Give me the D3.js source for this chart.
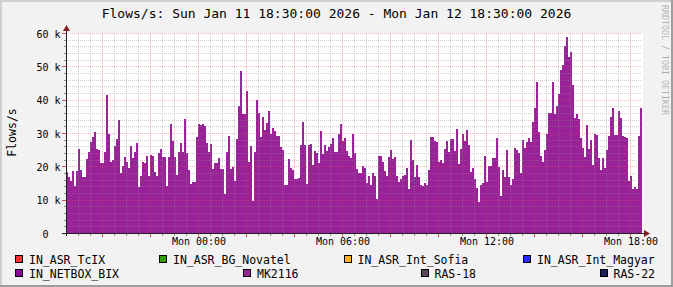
<!DOCTYPE html>
<html><head><meta charset="utf-8">
<script src="https://cdn.jsdelivr.net/npm/d3@7"></script>
<style>html,body{margin:0;padding:0;background:#F2F2F2;} svg{display:block;}</style>
</head><body><svg id="c" width="673" height="287"></svg>
<script>
// ---------- data ----------
const titleText = "Flows/s: Sun Jan 11 18:30:00 2026 - Mon Jan 12 18:30:00 2026";
const yAxisLabel = "Flows/s";
const watermarkText = "RRDTOOL / TOBI OETIKER";
const startTime = new Date(2026, 0, 11, 18, 30);
const endTime = new Date(2026, 0, 12, 18, 30);
const stepMinutes = 5;

// MK2116 flows per 5-minute step (288 values)
const flows = [
 18400,16900,15700,18700,14100,18700,25200,18900,16900,16900,
 22200,24200,27200,28900,30200,25200,24900,21100,21100,24200,
 41400,29700,21400,21900,26200,28200,33800,18100,20200,22900,
 21300,19600,26100,22600,24200,26900,13900,17100,21400,21100,
 23200,17200,23400,23100,18400,17200,23900,25200,22700,22900,
 14100,22700,32600,27600,22700,17400,24400,26900,24400,34200,
 23900,18900,14700,15200,15400,28700,32700,32400,32700,32200,
 27100,24400,26700,19200,21100,21100,22400,19200,19200,11700,
 24200,29200,19200,19700,15700,28100,38100,48600,35600,35600,
 42700,21400,
 26100,9700,24400,39900,36100,28900,34700,30900,33100,36600,
 29700,31500,30600,29100,29100,25900,24900,14400,14400,22100,
 19600,18900,16200,16200,16400,26400,33300,26400,14700,26400,
 26700,20400,24600,23900,21100,30600,23700,26400,24600,25900,
 26700,28400,24400,24400,29700,32700,27600,28400,24600,23100,
 22400,29700,23900,19200,18100,18100,20200,19400,15100,17100,
 14400,18100,17100,10200,23100,23100,21200,18700,17100,22700,
 24800,22200,22900,17100,15200,16100,17200,17400,19400,13200,
 27900,21900,16700,20400,16900,14400,14200,14900,14400,18900,
 28700,28700,27600,27200,21400,
 21900,21100,25100,27600,24400,28200,28200,24600,31100,20700,
 25200,29700,27700,30900,26400,18400,19600,16100,13600,9400,
 14400,15100,23100,15400,20000,20100,22600,22600,28600,19700,
 11100,18900,16900,24900,16900,14400,16100,25600,24900,24100,
 18100,27900,25400,27200,28600,27400,33400,37600,45200,30400,
 23100,21400,24900,29600,36100,35900,45200,35600,38100,41600,
 48900,50400,56100,58700,52900,54400,44400,34400,35600,34100,
 28400,25400,22900,32400,25200,27900,20400,29700,29400,22400,
 18900,22600,19400,24900,29100,34900,37600,29400,29400,36600,
 34400,29100,28900,28600,15700,17100,13100,13700,13100,29100,
 37600
];

const yTickValues = [0, 10000, 20000, 30000, 40000, 50000, 60000];
const yTickLabels = ["0", "10 k", "20 k", "30 k", "40 k", "50 k", "60 k"];
const xLabelTimes = [new Date(2026,0,12,0,0), new Date(2026,0,12,6,0), new Date(2026,0,12,12,0), new Date(2026,0,12,18,0)];

const legendNames = ["IN_ASR_TcIX","IN_ASR_BG_Novatel","IN_ASR_Int_Sofia","IN_ASR_Int_Magyar",
                     "IN_NETBOX_BIX","MK2116","RAS-18","RAS-22"];
const legendColors = ["#FF3333","#349A10","#FFB020","#2828FF",
                      "#880A98","#9A2298","#5A485A","#1E1E5C"];
const barColor = legendColors[5];

// ---------- layout ----------
const W = 673, H = 287;
const plot = {left: 66, right: 642, top: 33, bottom: 233};
const legendLayout = [[15.5,0],[159.5,0],[344,0],[523.5,0],[15.5,1],[243.5,1],[421,1],[600,1]];
const legendBaselines = [263.5, 277.5];
const FONT = "'DejaVu Sans Mono', monospace";

const svg = d3.select("#c");

// background + frame shading
svg.append("rect").attr("width", W).attr("height", H).attr("fill", "#F2F2F2");
svg.append("path").attr("d", `M0,0H${W}V2H2V${H}H0Z`).attr("fill", "#CFCFCF");
svg.append("path").attr("d", `M${W},0V${H}H0V${H-2}H${W-2}V0Z`).attr("fill", "#9E9E9E");

// scales
const x = d3.scaleTime().domain([startTime, endTime]).range([plot.left, plot.right]);
const y = d3.scaleLinear().domain([0, 60000]).range([plot.bottom, plot.top]);

// canvas
svg.append("rect").attr("x", plot.left).attr("y", plot.top)
  .attr("width", plot.right - plot.left + 1).attr("height", plot.bottom - plot.top)
  .attr("fill", "#FFFFFF");

// bars
svg.append("g").attr("shape-rendering", "crispEdges")
  .selectAll("rect").data(flows).join("rect")
  .attr("x", (d, i) => x(d3.timeMinute.offset(startTime, i * stepMinutes)))
  .attr("width", (d, i) => x(d3.timeMinute.offset(startTime, (i + 1) * stepMinutes)) - x(d3.timeMinute.offset(startTime, i * stepMinutes)))
  .attr("y", d => Math.round(y(d)))
  .attr("height", d => y(0) - Math.round(y(d)))
  .attr("fill", barColor);

// grid
const minorCol = "rgba(143,143,143,0.42)";
const majorCol = "rgba(222,80,80,0.4)";
const grid = svg.append("g").attr("shape-rendering", "crispEdges").attr("stroke-dasharray", "1,1");
const minorTimes = d3.timeMinute.every(30).range(d3.timeMinute.offset(startTime, 1), endTime)
  .filter(t => !(t.getMinutes() === 0 && t.getHours() % 2 === 0));
const majorTimes = d3.timeHour.every(2).range(startTime, endTime);
grid.selectAll(".vmin").data(minorTimes).join("line")
  .attr("x1", d => Math.round(x(d)) + 0.5).attr("x2", d => Math.round(x(d)) + 0.5)
  .attr("y1", plot.top).attr("y2", plot.bottom).attr("stroke", minorCol);
const yMinor = d3.range(2000, 60001, 2000).filter(v => v % 10000 !== 0);
grid.selectAll(".hmin").data(yMinor).join("line")
  .attr("y1", d => Math.round(y(d)) + 0.5).attr("y2", d => Math.round(y(d)) + 0.5)
  .attr("x1", plot.left).attr("x2", plot.right).attr("stroke", minorCol);
grid.selectAll(".vmaj").data(majorTimes).join("line")
  .attr("x1", d => Math.round(x(d)) + 0.5).attr("x2", d => Math.round(x(d)) + 0.5)
  .attr("y1", plot.top).attr("y2", plot.bottom).attr("stroke", majorCol);
grid.selectAll(".hmaj").data(yTickValues.slice(1)).join("line")
  .attr("y1", d => Math.round(y(d)) + 0.5).attr("y2", d => Math.round(y(d)) + 0.5)
  .attr("x1", plot.left).attr("x2", plot.right).attr("stroke", majorCol);

// tick marks
const ticks = svg.append("g").attr("shape-rendering", "crispEdges");
ticks.selectAll(".xt").data(minorTimes).join("line")
  .attr("x1", d => Math.round(x(d)) + 0.5).attr("x2", d => Math.round(x(d)) + 0.5)
  .attr("y1", plot.bottom).attr("y2", plot.bottom + 3).attr("stroke", "#8F8F8F");
ticks.selectAll(".xT").data(majorTimes).join("line")
  .attr("x1", d => Math.round(x(d)) + 0.5).attr("x2", d => Math.round(x(d)) + 0.5)
  .attr("y1", plot.bottom).attr("y2", plot.bottom + 4).attr("stroke", "#DE5050");
ticks.selectAll(".yt").data(yMinor).join("line")
  .attr("y1", d => Math.round(y(d)) + 0.5).attr("y2", d => Math.round(y(d)) + 0.5)
  .attr("x1", plot.left - 2).attr("x2", plot.left).attr("stroke", "#8F8F8F");
ticks.selectAll(".yT").data(yTickValues).join("line")
  .attr("y1", d => Math.round(y(d)) + 0.5).attr("y2", d => Math.round(y(d)) + 0.5)
  .attr("x1", plot.left - 4).attr("x2", plot.left).attr("stroke", "#DE5050");

// axis lines + arrows
const axisCol = "#1F1F1F", arrowCol = "#801F1F";
svg.append("line").attr("x1", plot.left + 0.5).attr("x2", plot.left + 0.5)
  .attr("y1", plot.bottom + 3).attr("y2", plot.top - 5).attr("stroke", axisCol).attr("shape-rendering","crispEdges");
svg.append("line").attr("x1", plot.left - 4).attr("x2", plot.right + 4)
  .attr("y1", plot.bottom + 0.5).attr("y2", plot.bottom + 0.5).attr("stroke", axisCol).attr("shape-rendering","crispEdges");
svg.append("path").attr("d", `M${plot.left - 3},${plot.top - 2}L${plot.left + 0.5},${plot.top - 8}L${plot.left + 4},${plot.top - 2}Z`).attr("fill", arrowCol);
svg.append("path").attr("d", `M${plot.right + 2},${plot.bottom - 3}L${plot.right + 8},${plot.bottom + 0.5}L${plot.right + 2},${plot.bottom + 4}Z`).attr("fill", arrowCol);

// y axis labels
const yAx = svg.append("g").attr("transform", `translate(${plot.left + 0.5},0.5)`)
  .call(d3.axisLeft(y).tickValues(yTickValues)
    .tickFormat((d, i) => yTickLabels[i].indexOf(" ") < 0 ? yTickLabels[i] + "\u00a0\u00a0" : yTickLabels[i])
    .tickSize(0).tickPadding(6));
yAx.select(".domain").remove();
yAx.attr("font-family", FONT).attr("font-size", 10);
yAx.selectAll("text").attr("dy", "0.35em").attr("fill", "#000");

// x axis labels
const xAx = svg.append("g").attr("transform", `translate(0.5,${plot.bottom})`)
  .call(d3.axisBottom(x).tickValues(xLabelTimes).tickFormat(d3.timeFormat("%a %H:%M")).tickSize(0));
xAx.select(".domain").remove();
xAx.attr("font-family", FONT).attr("font-size", 10);
xAx.selectAll("text").attr("y", 12).attr("dy", 0).attr("fill", "#000");

// title
svg.append("text").attr("x", W / 2).attr("y", 18).attr("text-anchor", "middle")
  .attr("font-family", FONT).attr("font-size", 13).attr("fill", "#000").text(titleText);

// vertical label
svg.append("text").attr("transform", "translate(15.5,132.5) rotate(-90)").attr("text-anchor", "middle")
  .attr("font-family", FONT).attr("font-size", 11.5).attr("fill", "#000").text(yAxisLabel);

// watermark
svg.append("text").attr("transform", `translate(${W - 5},5) rotate(90)`).attr("y", 6)
  .attr("font-family", FONT).attr("font-size", 8.3).attr("fill", "rgba(0,0,0,0.3)").text(watermarkText);

// legend
const lg = svg.append("g");
legendNames.forEach((name, i) => {
  const [lx, row] = legendLayout[i];
  const by = legendBaselines[row];
  lg.append("rect").attr("x", lx).attr("y", by - 8).attr("width", 7).attr("height", 7)
    .attr("fill", legendColors[i]).attr("stroke", "#000").attr("stroke-width", 1).attr("shape-rendering","crispEdges");
  lg.append("text").attr("x", lx + 13.5).attr("y", by)
    .attr("font-family", FONT).attr("font-size", 11.5).attr("fill", "#000").text(name);
});
</script>
</body></html>
